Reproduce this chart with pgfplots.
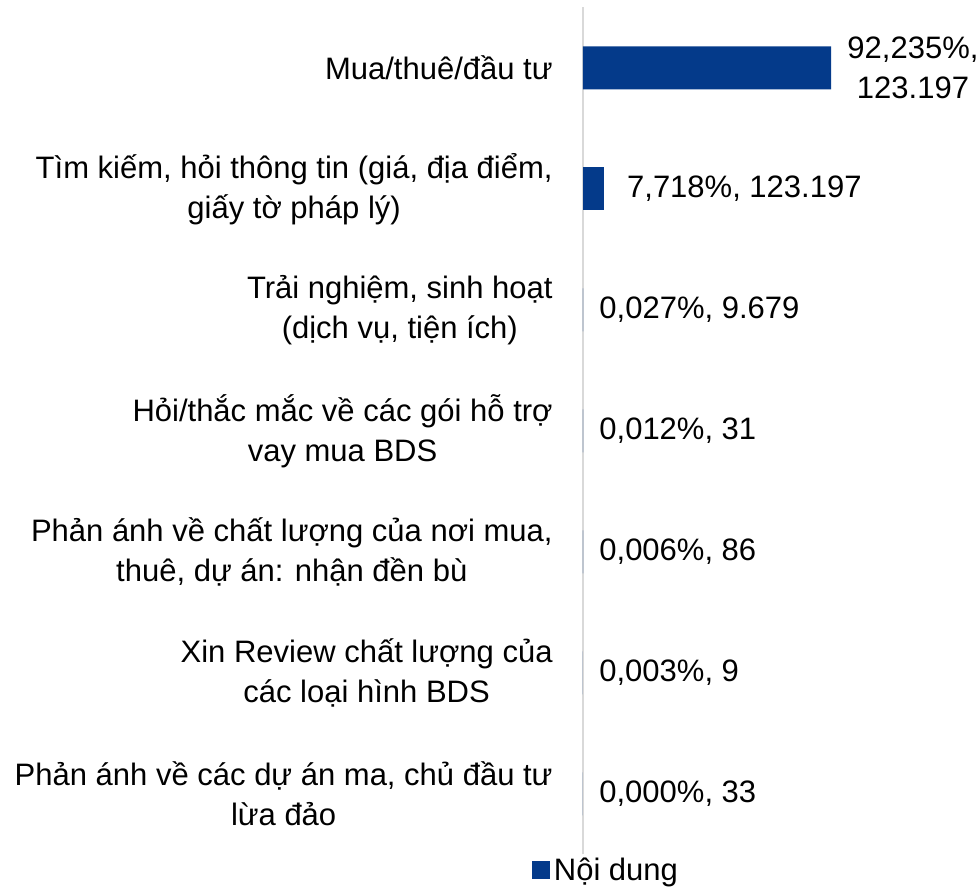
\documentclass[border=0pt]{standalone}
\usepackage{fontspec}
\setmainfont{Liberation Sans}
\usepackage{pgfplots}
\pgfplotsset{compat=1.18}
\definecolor{barblue}{RGB}{4,58,138}
\definecolor{axgray}{RGB}{217,217,217}
\begin{document}
\begin{tikzpicture}[font=\fontsize{15.5}{20}\selectfont]
\path[use as bounding box] (-291.5pt,-18.75pt) rectangle (196.5pt,427.25pt);
\begin{axis}[
  at={(0pt,0pt)}, anchor=south west,
  scale only axis, width=134.5pt, height=423.5pt,
  xbar, bar shift=0pt, xmin=0, xmax=100, ymin=-0.5, ymax=6.5,
  bar width=21.5pt,
  clip=false,
  hide x axis,
  axis y line*=left,
  y axis line style={draw=axgray, line width=1pt, -},
  ytick={0,1,2,3,4,5,6},
  yticklabels={
    {Phản ánh về các dự án ma, chủ đầu tư\\lừa đảo},
    {Xin Review chất lượng của\\các loại hình BDS},
    {Phản ánh về chất lượng của nơi mua,\\thuê, dự án: nhận đền bù},
    {Hỏi/thắc mắc về các gói hỗ trợ\\vay mua BDS},
    {Trải nghiệm, sinh hoạt\\(dịch vụ, tiện ích)},
    {Tìm kiếm, hỏi thông tin (giá, địa điểm,\\giấy tờ pháp lý)},
    {Mua/thuê/đầu tư}},
  major tick length=0pt,
  yticklabel style={align=center, anchor=east, inner sep=0pt, xshift=-15pt, text=black},
  point meta=explicit symbolic,
  nodes near coords,
  nodes near coords style={anchor=west, inner sep=0pt, xshift=8pt, align=center, text=black},
  legend style={at={(0.089,0)}, anchor=center, yshift=-8pt, draw=none, fill=none, inner sep=0pt,
    /tikz/every even column/.append style={column sep=2.5pt}},
  legend image code/.code={\fill[barblue] (0pt,-4.5pt) rectangle (9pt,4.5pt);},
]
\addplot[fill=barblue, draw=none] coordinates {
  (0.000,0) [{0,000\%, 33}]
  (0.003,1) [{0,003\%, 9}]
  (0.006,2) [{0,006\%, 86}]
  (0.012,3) [{0,012\%, 31}]
  (0.027,4) [{0,027\%, 9.679}]
  (92.235,6) [{92,235\%,\\123.197}]
};
\addlegendentry{Nội dung}
\addplot[fill=barblue, draw=none, forget plot,
  nodes near coords style={xshift=3.5pt}] coordinates {
  (7.718,5) [{7,718\%, 123.197}]
};
\end{axis}
\end{tikzpicture}
\end{document}
